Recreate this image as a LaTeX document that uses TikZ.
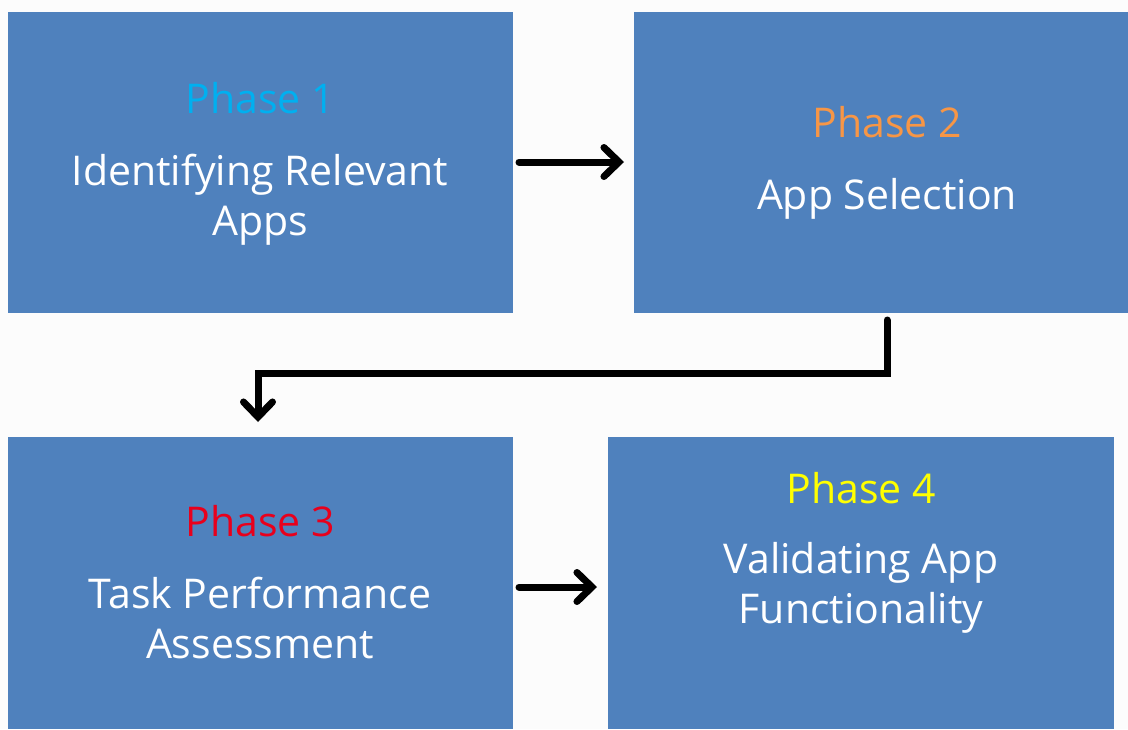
\documentclass[tikz,border=0pt]{standalone}
\usepackage{fontspec}
\setmainfont{Open Sans}
\usetikzlibrary{arrows.meta}
\definecolor{boxblue}{HTML}{4F81BD}
\definecolor{bgc}{HTML}{FCFCFC}
\definecolor{p1}{HTML}{00B0F0}
\definecolor{p2}{HTML}{F79646}
\definecolor{p3}{HTML}{E8001C}
\definecolor{p4}{HTML}{FFFF00}
\begin{document}
\begin{tikzpicture}[x=1pt,y=-1pt,
  title/.style={font=\fontsize{41}{44}\selectfont,inner sep=0pt,anchor=base},
  body/.style={font=\fontsize{41}{50}\selectfont,text=white,align=center,inner sep=0pt,anchor=base},
  conn/.style={line width=7pt,line cap=round,line join=miter,-{Straight Barb[length=15pt,width=29pt,line cap=round]}}
]
\fill[bgc] (0,0) rectangle (1128,729);
\useasboundingbox (0,0) rectangle (1128,729);
\fill[boxblue] (8,12) rectangle (513,313);
\fill[boxblue] (634,12) rectangle (1128,313);
\fill[boxblue] (8,437) rectangle (513,729);
\fill[boxblue] (608,437) rectangle (1114,729);
\coordinate (b1e) at (519,162);
\coordinate (b2w) at (624,162);
\coordinate (b2s) at (887,320);
\coordinate (k1) at (887,373);
\coordinate (k2) at (258,373);
\coordinate (b3n) at (258,422);
\coordinate (b3e) at (519,587);
\coordinate (b4w) at (597,587);
\node[title,text=p1] (t1) at (260,113) {Phase 1};
\node[body] (l1) at (260,235) {Identifying Relevant\\Apps};
\node[title,text=p2] (t2) at (887,137) {Phase 2};
\node[body] (l2) at (887,209) {App Selection};
\node[title,text=p3] (t3) at (260,536) {Phase 3};
\node[body] (l3) at (260,658) {Task Performance\\Assessment};
\node[title,text=p4] (t4) at (861,503) {Phase 4};
\node[body] (l4) at (861,623) {Validating App\\Functionality};
\draw[conn] (b1e) -- (b2w);
\draw[conn] (b2s) -- (k1) -- (k2) -- (b3n);
\draw[conn] (b3e) -- (b4w);
\end{tikzpicture}
\end{document}
